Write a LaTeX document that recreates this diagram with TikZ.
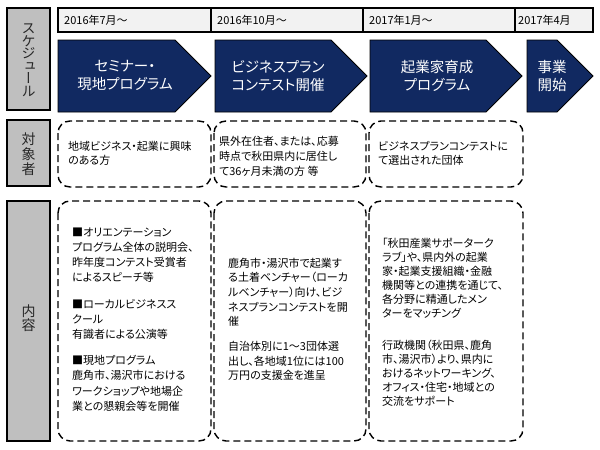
\documentclass[tikz,border=0pt]{standalone}
\usepackage{fontspec}
\setmainfont{Noto Sans CJK JP}[RawFeature=+palt]
\newfontfamily\vfont{Noto Sans CJK JP}[RawFeature=+vert]
\definecolor{navy}{RGB}{17,41,97}
\definecolor{labgray}{RGB}{191,191,191}
\definecolor{bargray}{RGB}{242,242,242}
\begin{document}
\begin{tikzpicture}[x=1pt,y=-1pt,
  labbox/.style={draw=black, line width=1.5pt, fill=labgray},
  labtext/.style={font=\vfont\fontsize{14}{14}\selectfont, align=center, inner sep=0pt, text=black!85},
  barbox/.style={draw=black, line width=1.3pt, fill=bargray},
  datetext/.style={font=\fontsize{11}{13}\selectfont, anchor=west, inner sep=0pt},
  arrowshape/.style={draw=black, line width=0.8pt, fill=navy},
  arrtext/.style={font=\fontsize{14.5}{18}\selectfont, align=center, text=white, inner sep=0pt},
  dbox/.style={draw=black, line width=1.4pt, dash pattern=on 7pt off 4pt, rounded corners=12pt},
  body/.style={font=\fontsize{11}{15}\selectfont, align=left, anchor=north west, inner sep=0pt}
]
\useasboundingbox (0,0) rectangle (600,450);
\fill[white] (0,0) rectangle (600,450);

% left labels
\draw[labbox] (7,8) rectangle (50,110);
\node[labtext, font=\vfont\fontsize{14}{12.5}\selectfont] (lab1) at (28.5,60) {ス\\ケ\\ジ\\ュ\\ー\\ル};
\draw[labbox] (7,120) rectangle (50,186);
\node[labtext, font=\vfont\fontsize{14}{15}\selectfont] (lab2) at (28.5,154) {対\\象\\者};
\draw[labbox] (7,201) rectangle (50,441);
\node[labtext] (lab3) at (28.5,318) {内\\容};

% date bar
\draw[barbox] (58,8) rectangle (593,32);
\draw[line width=1.3pt] (211,8) -- (211,32);
\draw[line width=1.3pt] (363,8) -- (363,32);
\draw[line width=1.3pt] (515,8) -- (515,32);
\node[datetext] (d1) at (64,20.5) {2016年7月～};
\node[datetext] (d2) at (217,20.5) {2016年10月～};
\node[datetext] (d3) at (369,20.5) {2017年1月～};
\node[datetext] (d4) at (518,20.5) {2017年4月};

% arrows
\draw[arrowshape] (58,40) -- (175,40) -- (211,76) -- (175,112) -- (58,112) -- cycle;
\draw[arrowshape] (215,40) -- (331,40) -- (367,76) -- (331,112) -- (215,112) -- cycle;
\draw[arrowshape] (370,40) -- (486,40) -- (522,76) -- (486,112) -- (370,112) -- cycle;
\draw[arrowshape] (527,40) -- (557,40) -- (593,76) -- (557,112) -- (527,112) -- cycle;
\node[arrtext] (a1) at (125,76) {セミナー・\\現地プログラム};
\node[arrtext] (a2) at (278,76) {ビジネスプラン\\コンテスト開催};
\node[arrtext] (a3) at (437,76) {起業家育成\\プログラム};
\node[arrtext] (a4) at (552,76) {事業\\開始};

% row 2
\draw[dbox] (58,121) rectangle (211,187);
\draw[dbox] (214,121) rectangle (366,187);
\draw[dbox] (369,121) rectangle (523,187);
\node[body, font=\fontsize{11}{14}\selectfont] (t1) at (68,141) {地域ビジネス・起業に興味\\のある方};
\node[body] (t2) at (219,136.5) {県外在住者、または、応募\\時点で秋田県内に居住し\\て36ヶ月未満の方 等};
\node[body, font=\fontsize{11}{13.5}\selectfont] (t3) at (378,141.5) {ビジネスプランコンテストに\\て選出された団体};

% row 3
\draw[dbox] (58,201) rectangle (211,441);
\draw[dbox] (214,201) rectangle (366,441);
\draw[dbox] (369,201) rectangle (523,441);
\node[body, font=\fontsize{11}{15.2}\selectfont] (c1) at (72,227.5) {■オリエンテーション\\プログラム全体の説明会、\\昨年度コンテスト受賞者\\によるスピーチ等\\[11pt]■ローカルビジネスス\\クール\\有識者による公演等\\[11pt]■現地プログラム\\鹿角市、湯沢市における\\ワークショップや地場企\\業との懇親会等を開催};
\node[body, font=\fontsize{11}{14.7}\selectfont] (c2) at (228,257.5) {鹿角市・湯沢市で起業す\\る土着ベンチャー（ローカ\\ルベンチャー）向け、ビジ\\ネスプランコンテストを開\\催\\[10pt]自治体別に1～3団体選\\出し、各地域1位には100\\万円の支援金を進呈};
\node[body, font=\fontsize{11}{14}\selectfont] (c3) at (382,237.5) {「秋田産業サポーターク\\ラブ」や、県内外の起業\\家・起業支援組織・金融\\機関等との連携を通じて、\\各分野に精通したメン\\ターをマッチング\\[18pt]行政機関（秋田県、鹿角\\市、湯沢市）より、県内に\\おけるネットワーキング、\\オフィス・住宅・地域との\\交流をサポート};
\end{tikzpicture}
\end{document}
